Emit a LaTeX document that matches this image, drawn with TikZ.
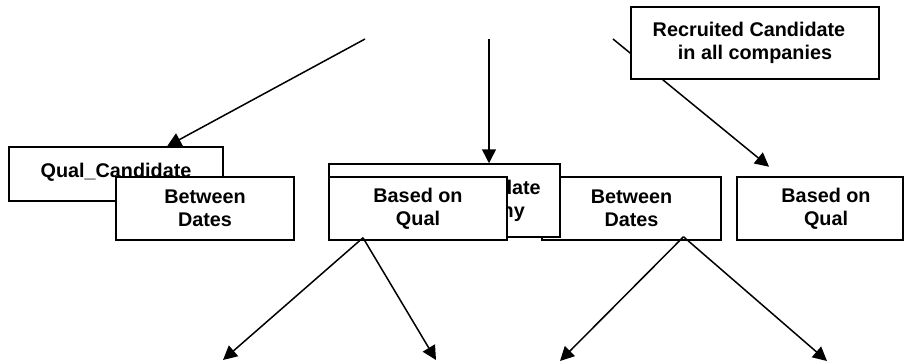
\documentclass[tikz,border=0pt]{standalone}
\usepackage{fontspec}
\setmainfont{Liberation Sans}
\usetikzlibrary{arrows.meta}

\begin{document}
\begin{tikzpicture}[x=1pt,y=-1pt,
  box/.style={draw, fill=white, line width=1.5pt, inner sep=0pt, align=center,
    font=\fontsize{19.8}{23}\selectfont\bfseries},
  arr/.style={line width=1.5pt, -{Triangle[length=14pt,width=14pt]}}]
  \useasboundingbox (0,0) rectangle (905,362);
  \coordinate (S1) at (365,39);
  \coordinate (S2) at (489,39);
  \coordinate (S3) at (613,39);
  \def\h{63pt} % box height

  % boxes of the second row
  \node[box, minimum width=214pt, minimum height=54pt] (qual) at (116,174) {\raisebox{8pt}{Qual\_Candidate}};
  \node[box, minimum width=178pt, minimum height=\h] (betw1) at (205,208.5) {Between\\Dates};
  \node[box, minimum width=179pt, minimum height=\h] (betw2) at (631.5,208.5) {Between\\Dates};
  \node[box, minimum width=231pt, minimum height=73pt] (rcomp) at (444.5,200.5) {Recruited Candidate\\in each company};
  \node[box, minimum width=178pt, minimum height=\h] (basq1) at (418,208.5) {Based on\\Qual};
  \node[box, minimum width=166pt, minimum height=\h] (basq2) at (820,208.5) {\hspace*{12pt}Based on\\\hspace*{12pt}Qual};

  \draw[arr] (S1) -- (qual);
  \draw[arr] (S2) -- (S2 |- rcomp.north);
  \draw[arr, shorten >=15pt] (S3) -- (basq2);

  \node[box, minimum width=248pt, minimum height=72pt] (rall) at (755,43) {Recruited Candidate\hspace*{12pt}\\in all companies};

  % lower level
  \coordinate (T1) at (223,360);
  \coordinate (T2) at (436,360);
  \coordinate (T3) at (560,361);
  \coordinate (T4) at (827,361);
  \draw[arr] ([xshift=-55pt,yshift=3pt]basq1.south) -- (T1);
  \draw[arr] ([xshift=-55pt,yshift=3pt]basq1.south) -- (T2);
  \draw[arr] ([xshift=52pt,yshift=4pt]betw2.south) -- (T3);
  \draw[arr] ([xshift=52pt,yshift=4pt]betw2.south) -- (T4);
\end{tikzpicture}
\end{document}
